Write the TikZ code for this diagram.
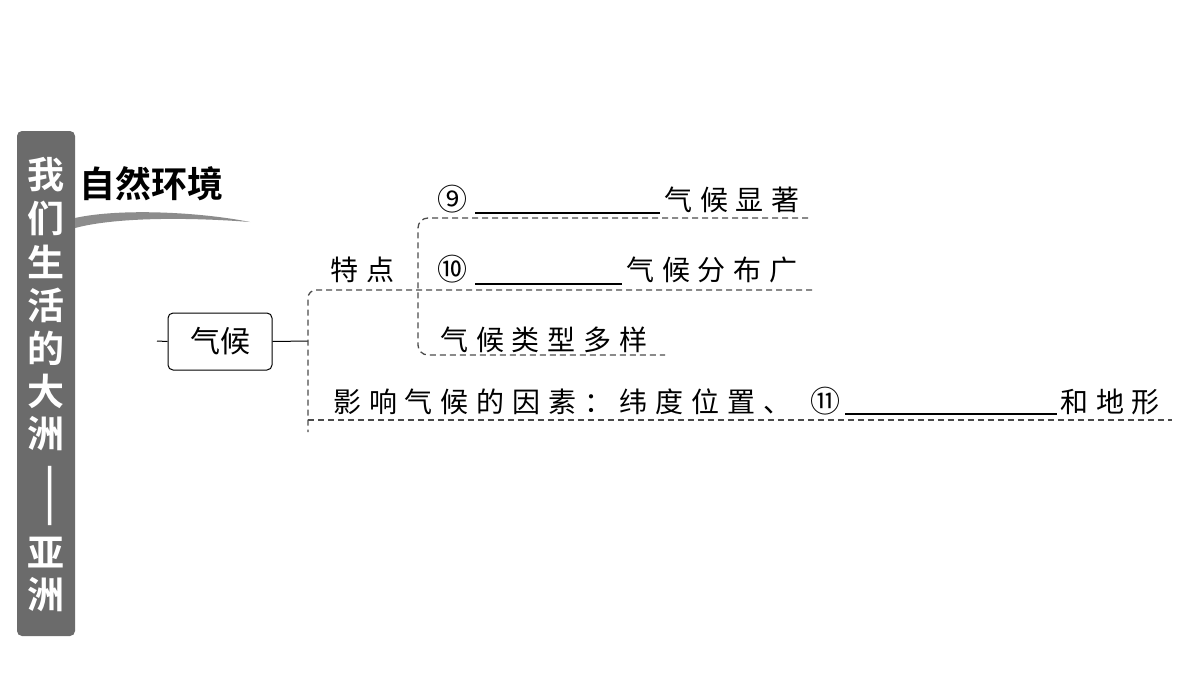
\documentclass[tikz,border=0pt]{standalone}
\usepackage{fontspec}
\newfontfamily\cjk[LetterSpace=28]{Noto Sans CJK SC}
\newfontfamily\cjkn{Noto Sans CJK SC}
\newfontfamily\cjkb{Noto Sans CJK SC Bold}
\begin{document}
\begin{tikzpicture}[x=1pt,y=-1pt,
  txt/.style={font=\cjk\fontsize{28}{28}\selectfont,inner sep=0pt,anchor=base west},
  num/.style={font=\cjkn\fontsize{30}{30}\selectfont,inner sep=0pt,anchor=base west},
  dsh/.style={draw=black!70,dashed,line width=1.3pt,dash pattern=on 6pt off 4pt},
  ul/.style={line width=1.6pt}]
\useasboundingbox (0,0) rectangle (1200,675);
\fill[white] (0,0) rectangle (1200,675);
% side bar
\node[fill=black!58,rounded corners=5pt,minimum width=58pt,minimum height=505pt,inner sep=0pt] (bar) at (46,383.5) {};
\foreach \c/\y in {我/175,们/218,生/262,活/305,的/348,大/391,洲/434,亚/553,洲/595}
  \node[text=white,font=\cjkb\fontsize{37}{37}\selectfont,inner sep=0pt] at (46,\y) {\c};
\node[text=white,font=\cjkb\fontsize{37}{37}\selectfont,rotate=-90,inner sep=0pt] (dash) at (46,496) {——};
% title
\node[font=\cjkb\fontsize{36}{36}\selectfont,inner sep=0pt,anchor=west] (title) at (79,184) {自然环境};
\fill[black!45] (75,218) .. controls (120,208) and (200,212) .. (250,222) .. controls (200,218) and (120,216) .. (75,228) -- cycle;
% climate box
\node[draw,rounded corners=5pt,line width=1pt,minimum width=104pt,minimum height=57pt,font=\cjkn\fontsize{30}{30}\selectfont] (qh) at (220,341.5) {气候};
\coordinate (l0) at (157,341);
\coordinate (r0) at (308,341);
\draw[line width=1pt] (l0) -- (qh.west);
\draw[line width=1pt] (qh.east) -- (r0);
% outer bracket
\draw[dsh,rounded corners=8pt] (812,290) -- (308,290) -- (308,432);
\draw[dsh] (308,420) -- (1172,420);
% inner bracket
\draw[dsh,rounded corners=10pt] (808,218) -- (418,218) -- (418,355) -- (665,355);
% texts
\node[txt] (td) at (330,280) {特点};
\node[num] (n9) at (437,210) {⑨};
\draw[ul] (475,213) -- (660,213);
\node[txt] (t9) at (664,210) {气候显著};
\node[num] (n10) at (437,280) {⑩};
\draw[ul] (475,284) -- (622,284);
\node[txt] (t10) at (626,280) {气候分布广};
\node[txt] (t3) at (440,350) {气候类型多样};
\node[txt] (t4) at (333,412) {影响气候的因素：纬度位置、};
\node[num] (n11) at (810,412) {⑪};
\draw[ul] (845,414) -- (1057,414);
\node[txt] (t11) at (1060,412) {和地形};
\end{tikzpicture}
\end{document}
